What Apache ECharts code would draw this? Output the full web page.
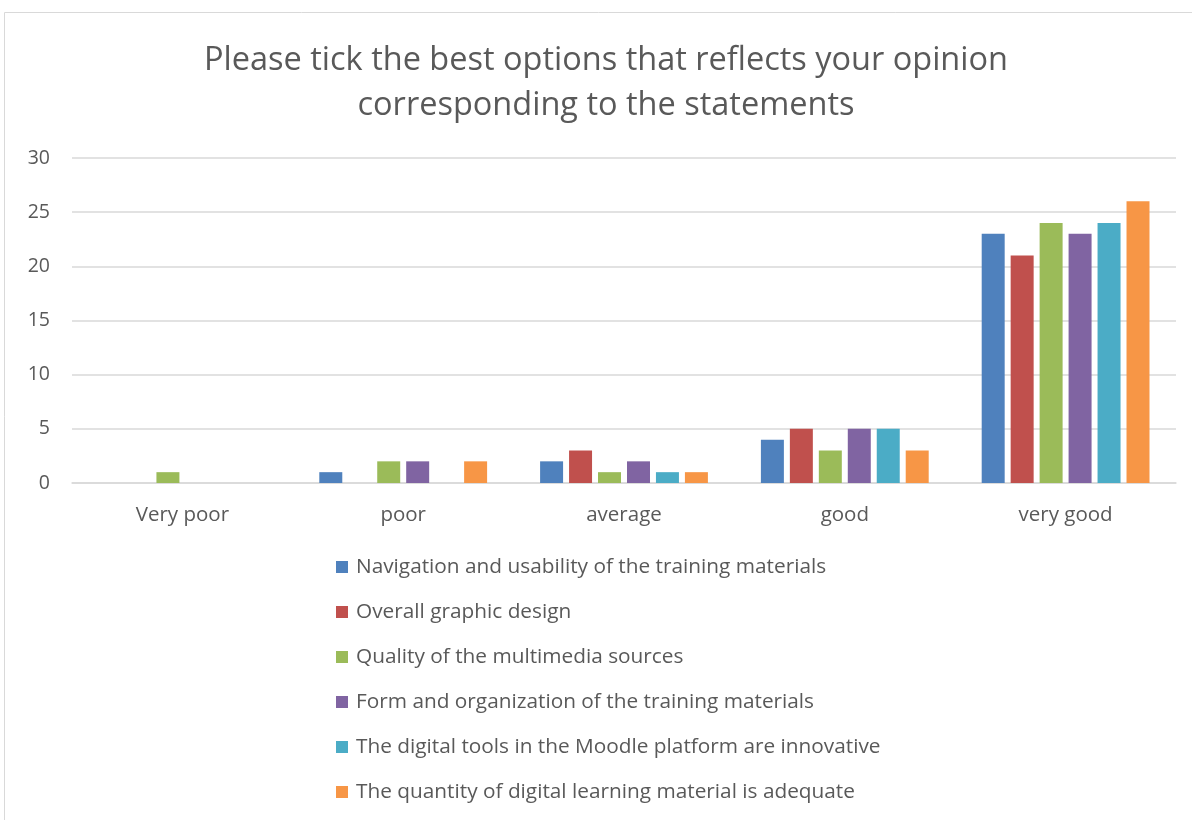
<!DOCTYPE html>
<html>
<head>
<meta charset="utf-8">
<script src="https://cdn.jsdelivr.net/npm/echarts@6/dist/echarts.min.js"></script>
<style>
  html, body { margin: 0; padding: 0; background: #fff; }
  #chart { width: 1192px; height: 820px; }
</style>
</head>
<body>
<div id="chart"></div>
<script>
// Rating categories along the x axis
const categories = ['Very poor', 'poor', 'average', 'good', 'very good'];

// One series per statement, counts per rating
const seriesNames = [
  'Navigation and usability of the training materials',
  'Overall graphic design',
  'Quality of the multimedia sources',
  'Form and organization of the training materials',
  'The digital tools in the Moodle platform are innovative',
  'The quantity of digital learning material is adequate'
];
const navigation   = [0, 1, 2, 4, 23];
const graphic      = [0, 0, 3, 5, 21];
const multimedia   = [1, 2, 1, 3, 24];
const organization = [0, 2, 2, 5, 23];
const digitalTools = [0, 0, 1, 5, 24];
const quantity     = [0, 2, 1, 3, 26];

const titleText = 'Please tick the best options that reflects your opinion\ncorresponding to the statements';

const seriesValues = [navigation, graphic, multimedia, organization, digitalTools, quantity];
const colors = ['#4F81BD', '#C0504D', '#9BBB59', '#8064A2', '#4BACC6', '#F79646'];

const font = 'Open Sans, Noto Sans, sans-serif';
const textColor = '#595959';

const chart = echarts.init(document.getElementById('chart'));
chart.setOption({
  animation: false,
  color: colors,
  graphic: [{
    type: 'rect',
    shape: { x: 4.5, y: 12.5, width: 1200, height: 820 },
    style: { fill: 'none', stroke: '#D9D9D9', lineWidth: 1 },
    silent: true
  }, {
    // Chart title, centred over the plot area
    type: 'text',
    x: 606,
    y: 38,
    silent: true,
    style: {
      text: titleText,
      align: 'center',
      verticalAlign: 'top',
      fontFamily: font,
      fontSize: 32.5,
      lineHeight: 45,
      fill: textColor
    }
  }],
  legend: {
    orient: 'vertical',
    left: 331,
    top: 550,
    itemWidth: 12,
    itemHeight: 12,
    itemGap: 21,
    icon: 'rect',
    textStyle: { fontFamily: font, fontSize: 20.8, color: textColor, lineHeight: 24, padding: [0, 0, 0, 3] },
    data: seriesNames
  },
  grid: { left: 72, right: 16, top: 158, bottom: 337 },
  xAxis: {
    type: 'category',
    data: categories,
    axisLine: { lineStyle: { color: '#D9D9D9', width: 1.5 } },
    axisTick: { show: false },
    axisLabel: { fontFamily: font, fontSize: 20.5, color: textColor, margin: 22 }
  },
  yAxis: {
    type: 'value',
    min: 0,
    max: 30,
    interval: 5,
    splitLine: { lineStyle: { color: '#D9D9D9', width: 1.5 } },
    axisLine: { show: false },
    axisTick: { show: false },
    axisLabel: { fontFamily: font, fontSize: 19.5, color: textColor, margin: 22 }
  },
  series: seriesNames.map((name, i) => ({
    name: name,
    type: 'bar',
    data: seriesValues[i],
    barGap: '26%',
    barCategoryGap: '24%'
  }))
});
</script>
</body>
</html>
